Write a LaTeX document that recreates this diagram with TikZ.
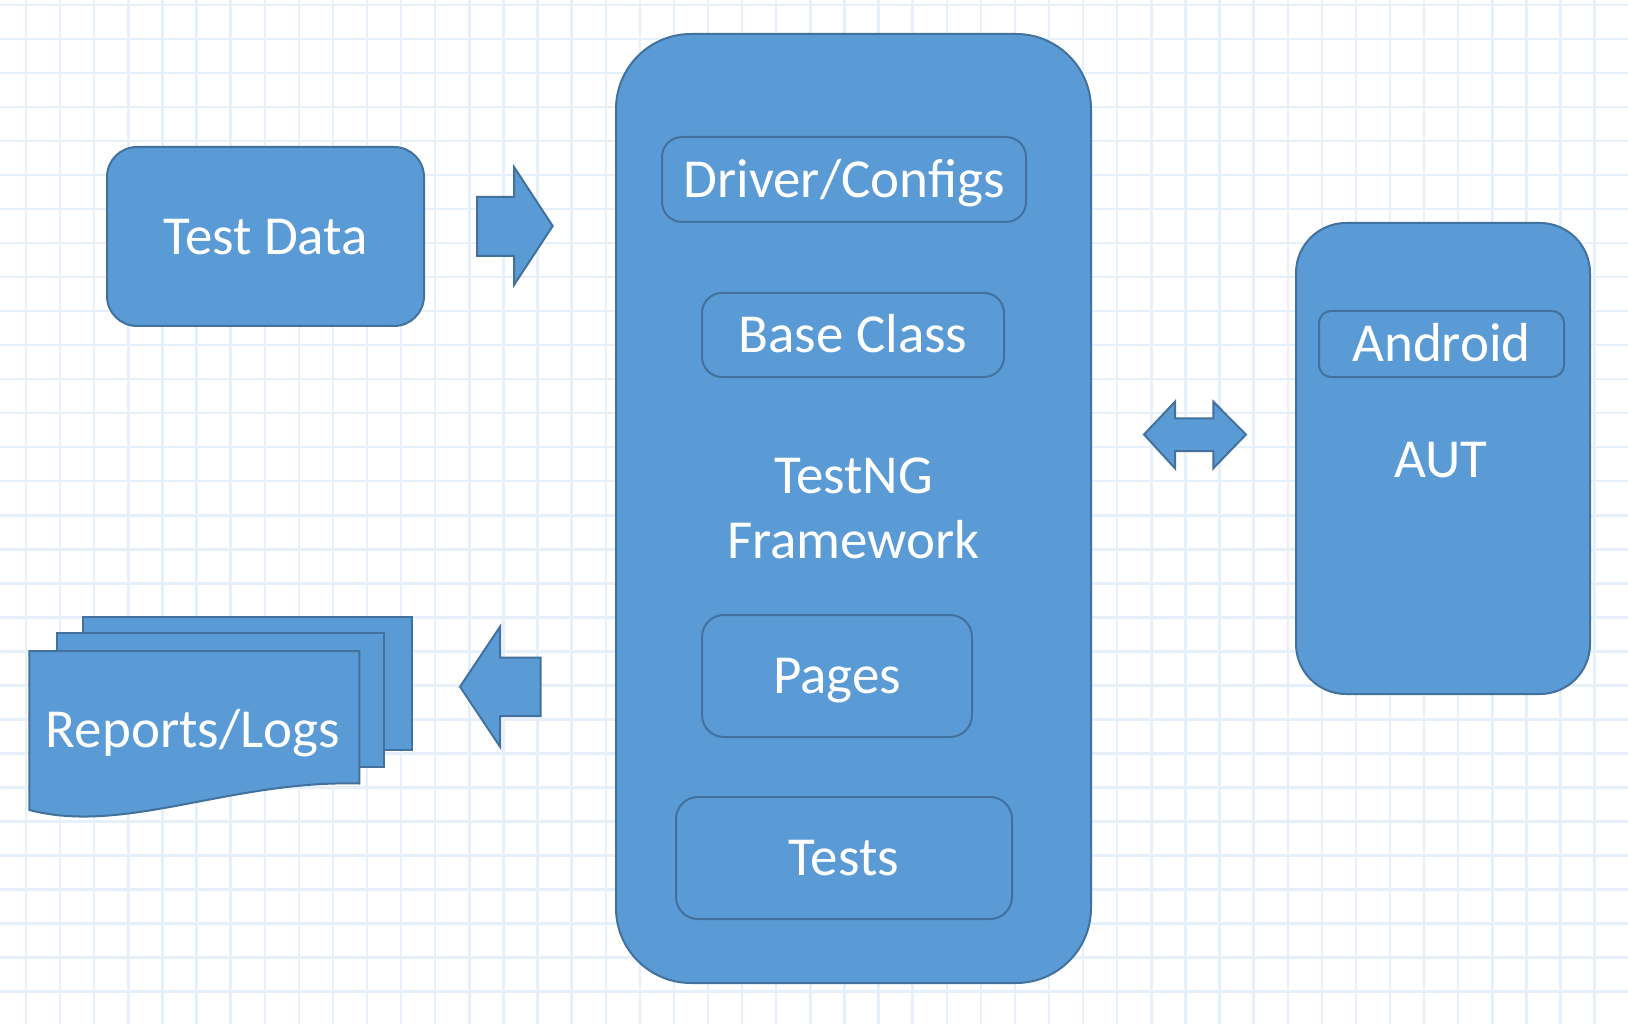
\documentclass[tikz,border=0pt]{standalone}
\usepackage{fontspec}
\setmainfont{Carlito}
\definecolor{boxfill}{HTML}{5B9BD5}
\definecolor{boxline}{HTML}{41719C}
\definecolor{gridc}{RGB}{229,240,251}
\begin{document}
\begin{tikzpicture}[x=1pt,y=-1pt,
  blk/.style={fill=boxfill,draw=boxline,line width=2pt},
  lbl/.style={text=white,font=\fontsize{55}{65}\selectfont},
  boxnode/.style={blk,lbl,rectangle,inner sep=0pt,text height=35.4pt,text depth=0pt},
  plainlbl/.style={lbl,inner sep=0pt,text height=35.4pt,text depth=0pt},
]
\fill[white] (0,0) rectangle (1628,1024);
\useasboundingbox (0,0) rectangle (1628,1024);
% grid
\foreach \i in {0,...,46} \draw[gridc,line width=2.4pt] ({26+34.1*\i},0) -- ({26+34.1*\i},1024);
\foreach \j in {0,...,29} \draw[gridc,line width=2.4pt] (0,{5+34.02*\j}) -- (1628,{5+34.02*\j});

% Test Data
\node[boxnode,minimum width=317pt,minimum height=179pt,rounded corners=30pt] (testdata) at (265.5,236.5) {Test Data};

% main framework box
\node[blk,lbl,rectangle,inner sep=0pt,align=center,minimum width=475pt,minimum height=949pt,rounded corners=75pt] (main) at (853.5,508.5) {TestNG\\Framework};
\node[boxnode,minimum width=364pt,minimum height=85pt,rounded corners=20pt] (driver) at (844,179.5) {Driver/Configs};
\node[boxnode,minimum width=302pt,minimum height=84pt,rounded corners=20pt] (base) at (853,335) {Base Class};
\node[boxnode,minimum width=270pt,minimum height=122pt,rounded corners=22pt] (pages) at (837,676) {Pages};
\node[boxnode,minimum width=336pt,minimum height=122pt,rounded corners=22pt] (tests) at (844,858) {Tests};

% AUT box
\node[blk,rectangle,inner sep=0pt,minimum width=294pt,minimum height=471pt,rounded corners=50pt] (aut) at (1443,458.5) {};
\node[boxnode,minimum width=245pt,minimum height=66pt,rounded corners=12pt] (android) at (1441.5,344) {Android};
\node[plainlbl] (auttext) at (1441,459.5) {AUT};

% Reports / Logs stack
\draw[blk] (82.7,616.7) rectangle (412.3,750);
\draw[blk] (56.7,633.3) rectangle (384,767.3);
\draw[blk] (29.3,651) -- (359.3,651) -- (359.3,783.5)
  .. controls (230,780) and (125,835) .. (29.3,810) -- cycle;
\node[plainlbl] (reports) at (193,729.3) {Reports/Logs};

% block arrows
\draw[blk] (477,197) -- (514,197) -- (514,167) -- (552.7,226) -- (514,285) -- (514,256) -- (477,256) -- cycle;
\draw[blk] (540.7,657.7) -- (500,657.7) -- (500,626.7) -- (460,686.7) -- (500,746.7) -- (500,716) -- (540.7,716) -- cycle;
\draw[blk] (1144,434.5) -- (1175,401.7) -- (1175,418.3) -- (1213.3,418.3) -- (1213.3,401.7) -- (1246,434.5)
  -- (1213.3,468.3) -- (1213.3,451) -- (1175,451) -- (1175,468.3) -- cycle;
\end{tikzpicture}
\end{document}
